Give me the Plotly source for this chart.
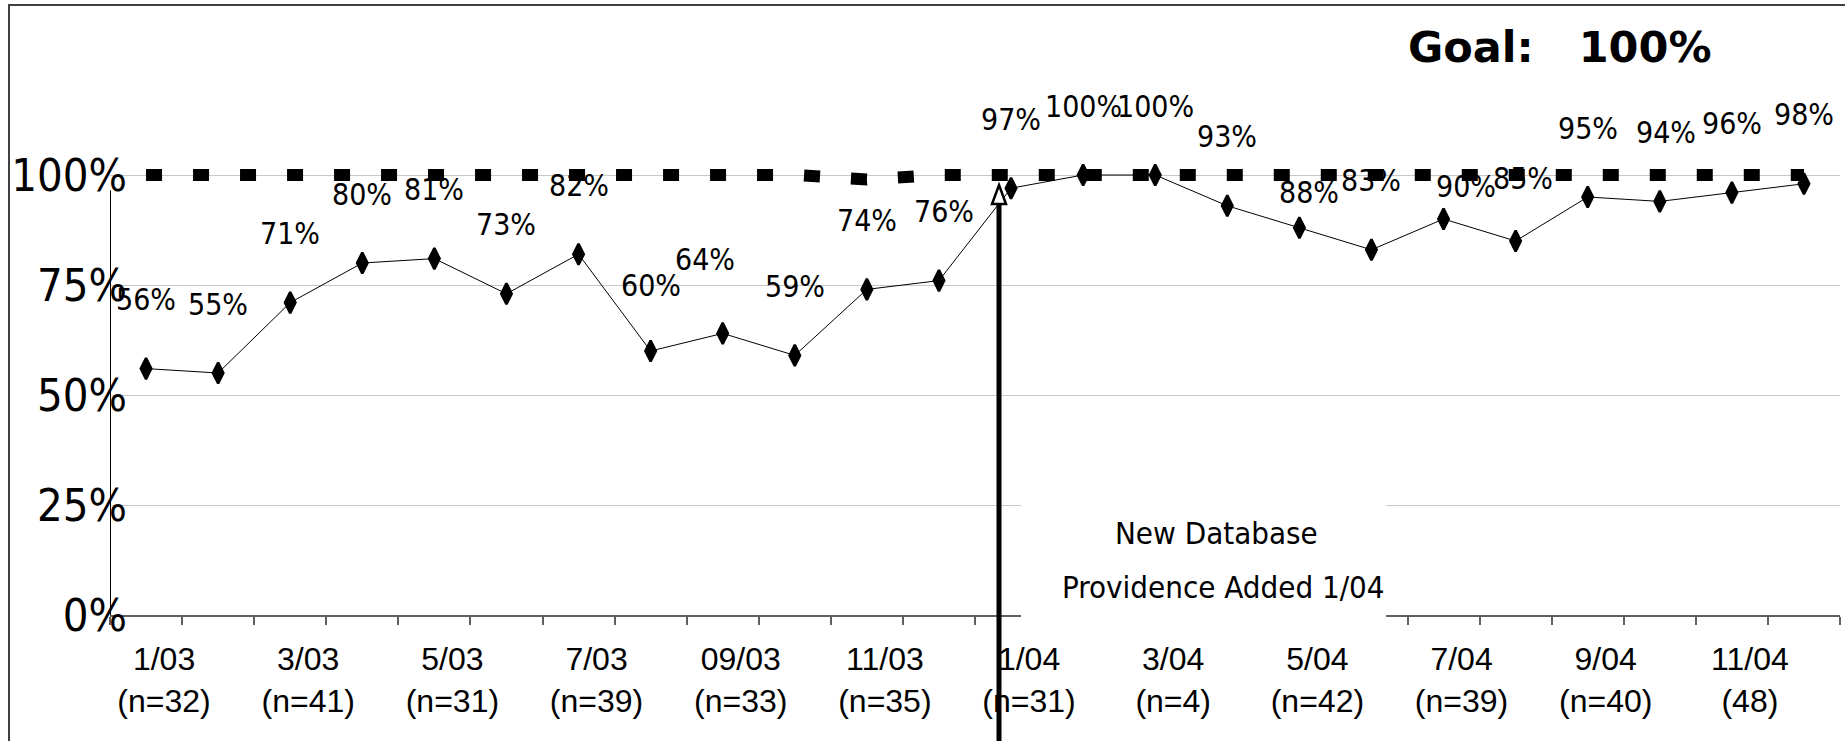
import plotly.graph_objects as go

# ---------------- data ----------------
months = ["1/03", "2/03", "3/03", "4/03", "5/03", "6/03", "7/03", "8/03",
          "09/03", "10/03", "11/03", "12/03", "1/04", "2/04", "3/04", "4/04",
          "5/04", "6/04", "7/04", "8/04", "9/04", "10/04", "11/04", "12/04"]
rates = [0.56, 0.55, 0.71, 0.80, 0.81, 0.73, 0.82, 0.60, 0.64, 0.59, 0.74, 0.76,
         0.97, 1.00, 1.00, 0.93, 0.88, 0.83, 0.90, 0.85, 0.95, 0.94, 0.96, 0.98]
goal = [1.00, 1.00, 1.00, 1.00, 1.00, 1.00, 1.00, 1.00, 1.00, 1.00, 0.99, 1.00,
        1.00, 1.00, 1.00, 1.00, 1.00, 1.00, 1.00, 1.00, 1.00, 1.00, 1.00, 1.00]
tick_months = ["1/03", "3/03", "5/03", "7/03", "09/03", "11/03",
               "1/04", "3/04", "5/04", "7/04", "9/04", "11/04"]
tick_counts = ["(n=32)", "(n=41)", "(n=31)", "(n=39)", "(n=33)", "(n=35)",
               "(n=31)", "(n=4)", "(n=42)", "(n=39)", "(n=40)", "(48)"]
y_ticks = [0, 0.25, 0.5, 0.75, 1.0]
y_labels = ["0%", "25%", "50%", "75%", "100%"]

# label nudges (pixels): index -> (dx, dy)
label_nudge = {7: (0, -3), 8: (-18, 5), 11: (5, 0), 16: (10, -34),
               18: (22, -36), 19: (7, -6), 21: (6, 0)}

# ---------------- layout geometry ----------------
W, H = 1845, 741
Y_TOP = 1.1                       # axis range top (100% sits at pixel 175)
L, R, B = 110, 5, 126
T = 175 - round(440 * (Y_TOP - 1.0))
PW, PH = W - L - R, H - T - B


def px_x(p):
    return (p - L) / PW


def px_y(p):
    return (H - B - p) / PH


LABEL_FONT = "DejaVu Sans Condensed, DejaVu Sans, sans-serif"
XFONT = "Liberation Sans, Arial, sans-serif"

xs = list(range(len(months)))
tick_pos = [months.index(m) for m in tick_months]
tick_text = [f"{m}<br>{c}" for m, c in zip(tick_months, tick_counts)]

fig = go.Figure()

fig.add_trace(go.Scatter(
    x=xs, y=goal, mode="lines", yaxis="y2",
    line=dict(color="black", width=12, dash="16px,31px"),
    cliponaxis=False, hoverinfo="skip", name="Goal"))

fig.add_trace(go.Scatter(
    x=xs, y=rates, mode="lines+markers",
    line=dict(color="black", width=1),
    marker=dict(symbol="diamond-tall", size=15, color="black",
                line=dict(color="black", width=2.5)),
    cliponaxis=False, name="Rate"))

annotations = []
for i, v in enumerate(rates):
    dx, dy = label_nudge.get(i, (0, 0))
    annotations.append(dict(
        x=i, y=v, xref="x", yref="y", text=f"{round(v * 100)}%",
        showarrow=False, xanchor="center", yanchor="middle",
        xshift=dx, yshift=69 + dy,
        font=dict(family=LABEL_FONT, size=30, color="black")))

annotations.append(dict(
    x=px_x(1560), y=px_y(47), xref="paper", yref="paper",
    text="Goal:\u00a0\u00a0\u00a0100%", showarrow=False,
    xanchor="center", yanchor="middle",
    font=dict(family="DejaVu Sans, sans-serif", size=43, color="black", weight="bold")))

annotations.append(dict(
    x=px_x(1216), y=px_y(533), xref="paper", yref="paper",
    text="New Database", showarrow=False, xanchor="center", yanchor="middle",
    font=dict(family=LABEL_FONT, size=31, color="black")))
annotations.append(dict(
    x=px_x(1223), y=px_y(587), xref="paper", yref="paper",
    text="Providence Added 1/04", showarrow=False, xanchor="center", yanchor="middle",
    font=dict(family=LABEL_FONT, size=31, color="black")))

shapes = [
    # value axis line (stops just below the 100% gridline, as in the original)
    dict(type="line", xref="paper", yref="y", layer="above",
         x0=px_x(110.5), x1=px_x(110.5), y0=0, y1=0.965,
         line=dict(color="black", width=1)),
    # white text box hiding gridline and axis
    dict(type="rect", xref="paper", yref="paper", layer="above",
         x0=px_x(1021), x1=px_x(1386), y0=px_y(625), y1=px_y(480),
         fillcolor="white", line=dict(width=0)),
    # arrow shaft
    dict(type="line", xref="paper", yref="paper", layer="above",
         x0=px_x(999), x1=px_x(999), y0=px_y(745), y1=px_y(203),
         line=dict(color="black", width=5)),
    # arrow head (open)
    dict(type="path", xref="paper", yref="paper", layer="above",
         path=(f"M {px_x(999)},{px_y(185)} L {px_x(1006)},{px_y(204)} "
               f"L {px_x(992)},{px_y(204)} Z"),
         fillcolor="white", line=dict(color="black", width=2.5)),
    # chart frame
    dict(type="rect", xref="paper", yref="paper", layer="above",
         x0=px_x(9), x1=px_x(1860), y0=px_y(760), y1=px_y(5),
         line=dict(color="#404040", width=2), fillcolor="rgba(0,0,0,0)"),
]

fig.update_layout(
    width=W, height=H,
    margin=dict(l=L, r=R, t=T, b=B, pad=0),
    paper_bgcolor="white", plot_bgcolor="white",
    showlegend=False,
    annotations=annotations, shapes=shapes,
    xaxis=dict(
        range=[-0.5, len(months) - 0.5],
        tickmode="array", tickvals=tick_pos, ticktext=tick_text,
        ticks="", showgrid=False, zeroline=False,
        showline=True, linecolor="#606060", linewidth=1.5,
        ticklabelshift=18, ticklabelstandoff=15,
        tickfont=dict(family=XFONT, size=32, color="black"),
        minor=dict(tickmode="array",
                   tickvals=[i - 0.5 for i in range(len(months) + 1)],
                   ticks="outside", ticklen=8, tickwidth=1.5,
                   tickcolor="#606060", showgrid=False),
    ),
    yaxis=dict(
        range=[0, Y_TOP], tickmode="array", tickvals=y_ticks,
        showticklabels=False, ticks="",
        showgrid=True, gridcolor="#c8c8c8", gridwidth=1.2,
        zeroline=False, showline=False,
    ),
    yaxis2=dict(
        overlaying="y", anchor="free", side="left", position=px_x(127),
        range=[0, Y_TOP], tickmode="array", tickvals=y_ticks, ticktext=y_labels,
        ticks="", showgrid=False, zeroline=False, showline=False,
        tickfont=dict(family=LABEL_FONT, size=45, color="black"),
    ),
)

fig.write_html("out.html", config={"displayModeBar": False},
               post_script="document.body.style.margin='0';document.body.style.overflow='hidden';")
